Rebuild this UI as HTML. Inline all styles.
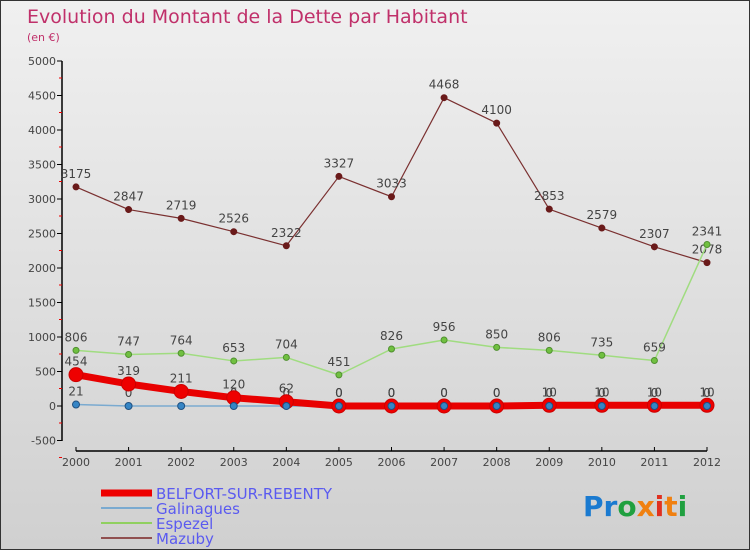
<!DOCTYPE html>
<html><head><meta charset="utf-8"><style>
body{margin:0;}
#c{width:748px;height:548px;border:1px solid #333;background:linear-gradient(#f0f0f0,#d0d0d0);position:relative;overflow:hidden;font-family:"DejaVu Sans","Liberation Sans",sans-serif;}
svg text{font-family:"DejaVu Sans","Liberation Sans",sans-serif;}
</style></head><body>
<div id="c">
<svg id="s" width="748" height="548">
<text x="26" y="22" font-size="19" fill="#c0306a">Evolution du Montant de la Dette par Habitant</text>
<text x="26" y="40" font-size="11" fill="#c0306a">(en €)</text>
<g id="legend">
<line x1="100" y1="492" x2="151" y2="492" stroke="#e00" stroke-width="7"/>
<text x="155" y="498" font-size="15" fill="#5a5af0">BELFORT-SUR-REBENTY</text>
<line x1="100" y1="507" x2="151" y2="507" stroke="#7aaad0" stroke-width="2"/>
<text x="155" y="513" font-size="15" fill="#5a5af0">Galinagues</text>
<line x1="100" y1="522" x2="151" y2="522" stroke="#90d060" stroke-width="2"/>
<text x="155" y="528" font-size="15" fill="#5a5af0">Espezel</text>
<line x1="100" y1="537" x2="151" y2="537" stroke="#905050" stroke-width="2"/>
<text x="155" y="543" font-size="15" fill="#5a5af0">Mazuby</text>
</g>
<g font-size="28" font-family="Liberation Sans" font-weight="bold">
<text x="582" y="515"><tspan fill="#1a7ad0">Pr</tspan><tspan fill="#20a040">o</tspan><tspan fill="#f08010">x</tspan><tspan fill="#e03020">i</tspan><tspan fill="#f08010">t</tspan><tspan fill="#20a040">i</tspan></text>
</g>
</svg>
</div>
<script>
const years=[2000,2001,2002,2003,2004,2005,2006,2007,2008,2009,2010,2011,2012];
const yTicks=[-500,0,500,1000,1500,2000,2500,3000,3500,4000,4500,5000];
const mazuby=[3175,2847,2719,2526,2322,3327,3033,4468,4100,2853,2579,2307,2078];
const espezel=[806,747,764,653,704,451,826,956,850,806,735,659,2341];
const galinagues=[21,0,0,0,0,0,0,0,0,0,0,0,0];
const belfort=[454,319,211,120,62,0,0,0,0,10,10,10,10];
const svg=document.getElementById('s');
const NS='http://www.w3.org/2000/svg';
function X(i){return 75+i*(706-75)/(years.length-1);}
function Y(v){return 405-v*(345/5000);}
function mk(t,a){const e=document.createElementNS(NS,t);for(const k in a)e.setAttribute(k,a[k]);svg.appendChild(e);return e;}
// axes
let e=mk('line',{x1:61,y1:60,x2:61,y2:440,stroke:'#000','stroke-width':1.5});


e=mk('line',{x1:75,y1:450,x2:706,y2:450,stroke:'#000','stroke-width':1.5});


yTicks.forEach(v=>{
 const y=Y(v);
 let t=mk('line',{x1:56,y1:y,x2:61,y2:y,stroke:'#000'});
 
 
 let r=mk('line',{x1:58,y1:y+17,x2:61,y2:y+17,stroke:'#e00'});
 
 
 let l=mk('text',{x:55,y:y+4,'font-size':11,fill:'#444','text-anchor':'end'});
 l.textContent=v;
 
 
});
years.forEach((yr,i)=>{
 const x=X(i);
 let t=mk('line',{x1:x,y1:446,x2:x,y2:450,stroke:'#000'});
 
 
 let l=mk('text',{x:x,y:465,'font-size':11,fill:'#444','text-anchor':'middle'});
 l.textContent=yr;
 
 
});
function series(data,name,color,w,dot,dotColor,r,labels){
 const p=mk('polyline',{points:data.map((v,i)=>X(i)+','+Y(v)).join(' '),fill:'none',stroke:color,'stroke-width':w,'stroke-linejoin':'round'});
 
 
 data.forEach((v,i)=>{
  const c=mk('circle',{cx:X(i),cy:Y(v),r:r,fill:dot,stroke:dotColor,'stroke-width':1});
  
  
  if(labels){
   const t=mk('text',{x:X(i),y:Y(v)-9,'font-size':12,fill:'#444','text-anchor':'middle'});
   t.textContent=v;
   
   
  }
 });
}
series(mazuby,'mazuby','#7a3030',1.2,'#6a1a1a','#6a1a1a',3,true);
series(espezel,'espezel','#a0dc80',1.5,'#70c040','#509030',3,true);
series(galinagues,'galinagues','#7aaad0',1.5,'#3080c0','#205080',3,true);
series(belfort,'belfort','#e80000',7,'#e00','#c00',7,true);
// galinagues dots on top of belfort
galinagues.forEach((v,i)=>{
 const c=mk('circle',{cx:X(i),cy:Y(v),r:3.5,fill:'#3585c5',stroke:'#205080'});
 
 
});
</script>
</body></html>
